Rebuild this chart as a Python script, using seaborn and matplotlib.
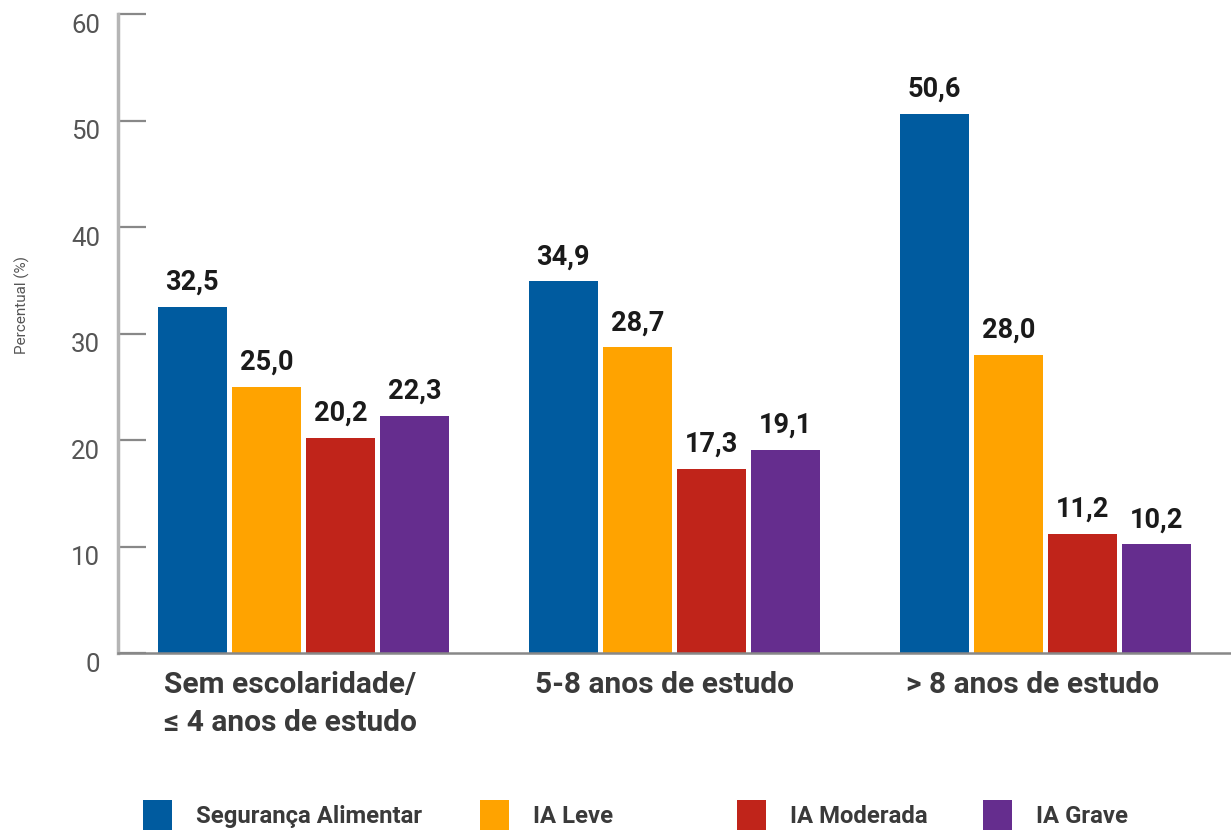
import pandas as pd
import seaborn as sns
import matplotlib.pyplot as plt
from matplotlib.patches import Patch
from matplotlib.transforms import ScaledTranslation


# Dados do gráfico
grupos = ["Sem escolaridade/\n≤ 4 anos de estudo", "5-8 anos de estudo", "> 8 anos de estudo"]
categorias = ["Segurança Alimentar", "IA Leve", "IA Moderada", "IA Grave"]
seguranca = [32.5, 34.9, 50.6]
ia_leve = [25.0, 28.7, 28.0]
ia_moderada = [20.2, 17.3, 11.2]
ia_grave = [22.3, 19.1, 10.2]
cores = ["#005b9f", "#ffa300", "#c0241a", "#652d8e"]

# Tabela longa para o seaborn
valores = [seguranca, ia_leve, ia_moderada, ia_grave]
linhas = []
for cat, serie in zip(categorias, valores):
    for g, v in zip(grupos, serie):
        linhas.append({"grupo": g, "categoria": cat, "valor": v})
df = pd.DataFrame(linhas)

sns.set_style("white")
plt.rcParams["font.family"] = ["Roboto", "DejaVu Sans"]

fig = plt.figure(figsize=(12.31, 8.30), dpi=100)
ax = fig.add_axes([118 / 1231, 1 - 653 / 830, 1 - 118 / 1231, (653 - 14) / 830])

sns.barplot(data=df, x="grupo", y="valor", hue="categoria", hue_order=categorias,
            order=grupos, palette=cores, saturation=1, width=0.8, gap=0.07,
            linewidth=0, legend=False, ax=ax)

# Rótulos de valor
for cont in ax.containers:
    for barra in cont:
        h = barra.get_height()
        ax.annotate(f"{h:.1f}".replace(".", ","), (barra.get_x() + barra.get_width() / 2, h),
                    xytext=(0, 8), textcoords="offset points", ha="center", va="bottom",
                    fontsize=19.5, fontweight="bold", color="#1a1a1a")

ax.set_xlim(-0.5, 2.5)
ax.set_ylim(0, 60)
ax.set_yticks(range(0, 61, 10))
ax.tick_params(axis="y", left=True, direction="in", length=20, width=1.6, color="#888888",
               labelsize=18.5, labelcolor="#555555", pad=13)
for lbl in ax.get_yticklabels():
    lbl.set_transform(lbl.get_transform() + ScaledTranslation(0, -0.09, fig.dpi_scale_trans))

ax.set_xticks([i - 0.375 for i in range(3)])
ax.set_xticklabels(grupos, ha="left", fontsize=21.5, fontweight="bold", color="#3a3a3a",
                   linespacing=1.45)
ax.tick_params(axis="x", length=0, pad=13)
ax.set_xlabel("")
ax.set_ylabel("")

for lado in ["top", "right"]:
    ax.spines[lado].set_visible(False)
ax.spines["left"].set_color("#b5b5b5")
ax.spines["left"].set_linewidth(2.5)
ax.spines["bottom"].set_color("#888888")
ax.spines["bottom"].set_linewidth(1.8)

fig.text(22 / 1231, 1 - 305 / 830, "Percentual (%)", rotation=90, ha="center", va="center",
         fontsize=11, color="#555555", fontstretch="condensed")

# Legenda (uma entrada por posição)
pos_x = [143, 480, 737, 983]
for cat, cor, x in zip(categorias, cores, pos_x):
    fig.legend(handles=[Patch(facecolor=cor, edgecolor="none", label=cat)],
               loc="upper left", bbox_to_anchor=(x / 1231, 1 - 800 / 830),
               frameon=False, borderpad=0, borderaxespad=0,
               handlelength=1.2, handleheight=1.6, handletextpad=1.0,
               labelcolor="#3a3a3a", prop={"weight": "bold", "size": 17.2})

fig.savefig("out.png", dpi=100)
